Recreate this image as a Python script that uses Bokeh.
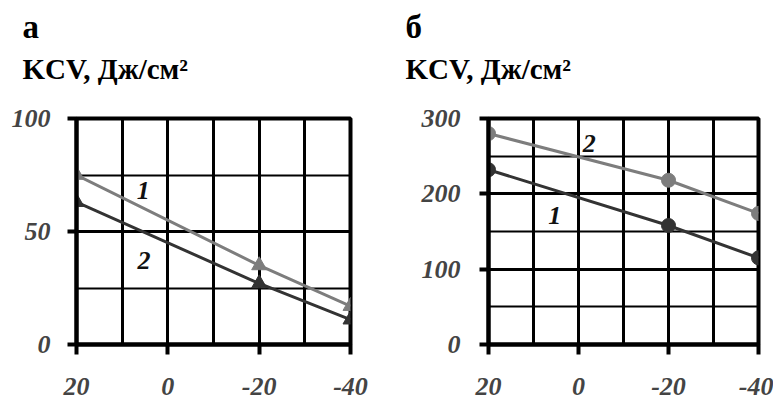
from bokeh.plotting import figure
from bokeh.layouts import row
from bokeh.models import FixedTicker, Range1d, Title
from bokeh.core.properties import value
from bokeh.embed import file_html
from bokeh.resources import INLINE

# ---- data ----
temps = [20, -20, -40]
x_ticks = [20, 0, -20, -40]
x_tick_labels = ["20", "0", "-20", "-40"]
x_minor = [10, -10, -30]

# panel a (triangles)
a_s1 = [75, 35, 17]     # curve 1 (grey)
a_s2 = [63, 27, 11]     # curve 2 (dark)
a_yticks = [0, 50, 100]
a_ytick_labels = ["0", "50", "100"]
a_yminor = [25, 75]
a_lab_text = ["1", "2"]
a_lab_x = [5.4, 5.2]
a_lab_y = [68, 37]

# panel b (circles)
b_s2 = [280, 218, 174]  # curve 2 (grey)
b_s1 = [232, 158, 115]  # curve 1 (dark)
b_yticks = [0, 100, 200, 300]
b_ytick_labels = ["0", "100", "200", "300"]
b_yminor = [50, 150, 250]
b_lab_text = ["2", "1"]
b_lab_x = [-2.4, 5.3]
b_lab_y = [267, 171]

ylabel = "KCV, Дж/см²"
GREY = "#7d7d7d"
DARK = "#333333"
SERIF = "serif"
INK = "black"


def make_panel(letter, yticks, ylabels, yminor, ymax, border_left, frame_w, border_right,
               offset, ystandoff):
    p = figure(output_backend="svg", toolbar_location=None,
               frame_width=frame_w, frame_height=226,
               min_border_left=border_left, min_border_right=border_right,
               min_border_top=118, min_border_bottom=60,
               x_range=Range1d(20, -40), y_range=Range1d(0, ymax))
    p.outline_line_color = INK
    p.outline_line_width = 4

    p.add_layout(Title(text=" ", text_font_size="1px", standoff=25), "above")
    p.add_layout(Title(text=ylabel, align="left", offset=offset,
                       text_font=SERIF, text_font_size="29px", text_font_style="bold",
                       text_color="black", standoff=12), "above")
    p.add_layout(Title(text=letter, align="left", offset=offset,
                       text_font=SERIF, text_font_size="33px", text_font_style="bold",
                       text_color="black", standoff=0), "above")

    p.xaxis.ticker = FixedTicker(ticks=x_ticks, minor_ticks=x_minor)
    p.yaxis.ticker = FixedTicker(ticks=yticks, minor_ticks=yminor)
    p.xaxis.major_label_overrides = dict(zip(x_ticks, x_tick_labels))
    p.yaxis.major_label_overrides = dict(zip(yticks, ylabels))
    for ax in (p.xaxis, p.yaxis):
        ax.axis_line_color = INK
        ax.axis_line_width = 4
        ax.major_tick_line_color = INK
        ax.major_tick_line_width = 4
        ax.major_tick_in = 0
        ax.minor_tick_line_color = None
        ax.major_label_text_font = SERIF
        ax.major_label_text_font_size = "26px"
        ax.major_label_text_font_style = "bold italic"
    p.xaxis.major_tick_out = 10
    p.yaxis.major_tick_out = 9
    p.xaxis.major_label_standoff = 23
    p.yaxis.major_label_standoff = ystandoff

    p.xgrid.grid_line_color = INK
    p.xgrid.grid_line_width = 3
    p.xgrid.minor_grid_line_color = INK
    p.xgrid.minor_grid_line_width = 3
    p.ygrid.grid_line_color = INK
    p.ygrid.grid_line_width = 3
    p.ygrid.minor_grid_line_color = INK
    p.ygrid.minor_grid_line_width = 1.8
    return p


pa = make_panel("а", a_yticks, a_ytick_labels, a_yminor, 100, 76, 274, 36, -54, 17)
pa.line(temps, a_s1, line_color=GREY, line_width=3)
pa.line(temps, a_s2, line_color=DARK, line_width=3)
pa.scatter(temps, a_s1, marker="triangle", size=15, fill_color=GREY, line_color=GREY)
pa.scatter(temps, a_s2, marker="triangle", size=15, fill_color=DARK, line_color=DARK)
pa.text(a_lab_x, a_lab_y, text=a_lab_text, text_font=value(SERIF), text_font_size="26px",
        text_font_style="bold italic", text_align="center", text_baseline="middle",
        text_color="#111111")

pb = make_panel("б", b_yticks, b_ytick_labels, b_yminor, 300, 102, 270, 15, -83, 19)
pb.line(temps, b_s2, line_color=GREY, line_width=3)
pb.line(temps, b_s1, line_color=DARK, line_width=3)
pb.scatter(temps, b_s2, marker="circle", size=14, fill_color=GREY, line_color=GREY)
pb.scatter(temps, b_s1, marker="circle", size=14, fill_color=DARK, line_color=DARK)
pb.text(b_lab_x, b_lab_y, text=b_lab_text, text_font=value(SERIF), text_font_size="26px",
        text_font_style="bold italic", text_align="center", text_baseline="middle",
        text_color="#111111")

layout = row(pa, pb)

open("out.html", "w").write(file_html(layout, INLINE))
